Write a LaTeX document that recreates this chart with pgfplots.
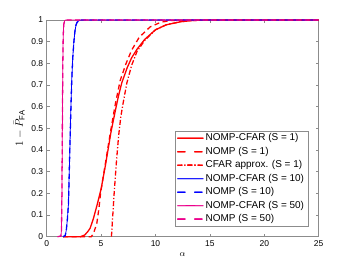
\documentclass[border=0pt]{standalone}
\usepackage{pgfplots}
\pgfplotsset{compat=1.18}
\usepackage{fontspec}
\setmainfont{Liberation Sans}
\definecolor{axgray}{gray}{0.55}
\begin{document}
\begin{tikzpicture}
\begin{axis}[
  scale only axis, width=272bp, height=216.7bp,
  at={(0,0)}, anchor=south west,
  xmin=0, xmax=25, ymin=0, ymax=1,
  xtick={0,5,10,15,20,25},
  ytick={0,0.1,0.2,0.3,0.4,0.5,0.6,0.7,0.8,0.9,1},
  yticklabels={0,0.1,0.2,0.3,0.4,0.5,0.6,0.7,0.8,0.9,1},
  xticklabels={0,5,10,15,20,25},
  tick align=inside, major tick length=3bp,
  xtick pos=both, ytick pos=both,
  axis line style={axgray, line width=0.5pt},
  every tick/.style={axgray, line width=0.5pt},
  tick label style={font=\fontsize{8.5}{10}\selectfont},
  clip=false,
  xlabel={$\alpha$}, ylabel={$1-\bar{P}_{\mathrm{FA}}$},
  xlabel style={font=\fontsize{9}{10}\selectfont},
  ylabel style={font=\fontsize{11}{12}\selectfont},
  dashedM/.style={dash pattern=on 5bp off 3.5bp},
  dashedL/.style={dash pattern=on 8bp off 9bp},
  dashdotM/.style={dash pattern=on 5bp off 2bp on 1.2bp off 2bp},
]
\addplot[red, line width=1.3pt, solid] coordinates {(1.5,0)(3.1,0)(3.5,0.008)(3.8,0.025)(4.0,0.04)(4.3,0.085)(4.65,0.15)(5.0,0.22)(5.4,0.33)(5.9,0.48)(6.3,0.58)(6.6,0.65)(6.9,0.71)(7.4,0.78)(7.8,0.825)(8.3,0.865)(9.0,0.91)(10.0,0.955)(11.0,0.978)(12.3,0.992)(13.5,0.998)(15,1)(25,1)};
\addplot[red, line width=1.3pt, dashedM] coordinates {(1.5,0)(4.1,0)(4.3,0.015)(4.6,0.06)(4.8,0.13)(4.95,0.2)(5.4,0.34)(5.85,0.48)(6.3,0.61)(6.75,0.72)(7.3,0.8)(7.8,0.86)(8.5,0.92)(9.5,0.968)(10.5,0.99)(11.5,0.998)(13,1)(25,1)};
\addplot[red, line width=1.3pt, dashdotM] coordinates {(5.95,0)(6.05,0.08)(6.2,0.2)(6.4,0.34)(6.6,0.46)(6.8,0.55)(7.0,0.61)(7.37,0.71)(7.8,0.79)(8.3,0.855)(9.0,0.905)(10,0.955)(11,0.978)(12.3,0.992)(13.5,0.998)(15,1)(25,1)};
\addplot[blue, line width=0.8pt, solid] coordinates {(1.5,0)(1.7,0.005)(1.8,0.03)(1.9,0.08)(2.0,0.15)(2.1,0.35)(2.2,0.55)(2.3,0.72)(2.4,0.83)(2.5,0.9)(2.6,0.95)(2.7,0.978)(2.8,0.99)(3.0,0.998)(3.2,1)(25,1)};
\addplot[blue, line width=1.3pt, dashedM] coordinates {(1.5,0)(1.7,0.005)(1.8,0.03)(1.9,0.08)(2.0,0.15)(2.1,0.35)(2.2,0.55)(2.3,0.72)(2.4,0.83)(2.5,0.9)(2.6,0.95)(2.7,0.978)(2.8,0.99)(3.0,0.998)(3.2,1)(25,1)};
\addplot[magenta, line width=0.8pt, solid] coordinates {(1.0,0)(1.3,0.003)(1.36,0.03)(1.4,0.2)(1.44,0.5)(1.48,0.8)(1.52,0.93)(1.57,0.98)(1.65,0.997)(1.75,1)(25,1)};
\addplot[magenta, line width=1.3pt, dashedM] coordinates {(1.0,0)(1.3,0.003)(1.36,0.03)(1.4,0.2)(1.44,0.5)(1.48,0.8)(1.52,0.93)(1.57,0.98)(1.65,0.997)(1.75,1)(25,1)};
% legend box and samples
\addplot[forget plot, draw=axgray, fill=white, line width=0.5pt] coordinates {(11.8,0.487)(24.06,0.487)(24.06,0.049)(11.8,0.049)} -- cycle;
\addplot[forget plot, red, line width=1.3pt, solid] coordinates {(12.0,0.454)(13.2,0.4543)(14.39,0.454)};
\addplot[forget plot, red, line width=1.3pt, solid] coordinates {(12.0,0.4541)(13.2,0.4544)(14.39,0.4541)};
\addplot[forget plot, red, line width=1.3pt, dashedL] coordinates {(12.0,0.392)(13.2,0.3923)(14.39,0.392)};
\addplot[forget plot, red, line width=1.3pt, dashedL] coordinates {(12.0,0.3921)(13.2,0.3924)(14.39,0.3921)};
\addplot[forget plot, red, line width=1.3pt, dashdotM] coordinates {(12.0,0.330)(13.2,0.3303)(14.39,0.330)};
\addplot[forget plot, red, line width=1.3pt, dashdotM] coordinates {(12.0,0.3301)(13.2,0.3304)(14.39,0.3301)};
\addplot[forget plot, blue, line width=0.8pt, solid] coordinates {(12.0,0.267)(13.2,0.2673)(14.39,0.267)};
\addplot[forget plot, blue, line width=0.8pt, solid] coordinates {(12.0,0.2671)(13.2,0.2674)(14.39,0.2671)};
\addplot[forget plot, blue, line width=1.3pt, dashedL] coordinates {(12.0,0.205)(13.2,0.2053)(14.39,0.205)};
\addplot[forget plot, blue, line width=1.3pt, dashedL] coordinates {(12.0,0.2051)(13.2,0.2054)(14.39,0.2051)};
\addplot[forget plot, magenta, line width=0.8pt, solid] coordinates {(12.0,0.143)(13.2,0.1433)(14.39,0.143)};
\addplot[forget plot, magenta, line width=0.8pt, solid] coordinates {(12.0,0.1431)(13.2,0.1434)(14.39,0.1431)};
\addplot[forget plot, magenta, line width=1.3pt, dashedL] coordinates {(12.0,0.081)(13.2,0.0813)(14.39,0.081)};
\addplot[forget plot, magenta, line width=1.3pt, dashedL] coordinates {(12.0,0.0811)(13.2,0.0814)(14.39,0.0811)};
\node[anchor=west, inner sep=0pt] at (axis cs:14.6,0.454) {NOMP-CFAR (S = 1)};
\node[anchor=west, inner sep=0pt] at (axis cs:14.6,0.392) {NOMP (S = 1)};
\node[anchor=west, inner sep=0pt] at (axis cs:14.6,0.330) {CFAR approx. (S = 1)};
\node[anchor=west, inner sep=0pt] at (axis cs:14.6,0.267) {NOMP-CFAR (S = 10)};
\node[anchor=west, inner sep=0pt] at (axis cs:14.6,0.205) {NOMP (S = 10)};
\node[anchor=west, inner sep=0pt] at (axis cs:14.6,0.143) {NOMP-CFAR (S = 50)};
\node[anchor=west, inner sep=0pt] at (axis cs:14.6,0.081) {NOMP (S = 50)};
\end{axis}
\path[use as bounding box] (-46.7bp,-29.3bp) rectangle (307.3bp,236.7bp);
\end{tikzpicture}
\end{document}
